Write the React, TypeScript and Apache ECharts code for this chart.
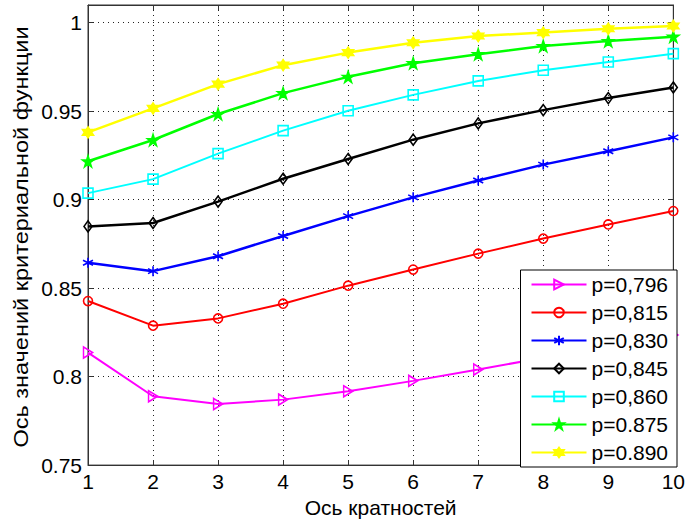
import React, { useEffect, useRef } from "react";
import * as echarts from "echarts";

const xValues = [1, 2, 3, 4, 5, 6, 7, 8, 9, 10];
const seriesNames = ["p=0,796", "p=0,815", "p=0,830", "p=0,845", "p=0,860", "p=0.875", "p=0.890"];
const p796 = [0.8136, 0.7889, 0.7845, 0.787, 0.7917, 0.7976, 0.804, 0.8107, 0.817, 0.8235];
const p815 = [0.8427, 0.8288, 0.8329, 0.8412, 0.8514, 0.8605, 0.8695, 0.878, 0.886, 0.8936];
const p830 = [0.8643, 0.8596, 0.868, 0.8795, 0.8907, 0.9013, 0.9108, 0.9198, 0.9274, 0.9352];
const p845 = [0.8849, 0.8868, 0.8989, 0.9118, 0.923, 0.9339, 0.9431, 0.9506, 0.9574, 0.9634];
const p860 = [0.9037, 0.9116, 0.926, 0.939, 0.9502, 0.9592, 0.9671, 0.9731, 0.9778, 0.9825];
const p875 = [0.9217, 0.9337, 0.9484, 0.9602, 0.9694, 0.9771, 0.9822, 0.9868, 0.9896, 0.9921];
const p890 = [0.938, 0.9516, 0.9653, 0.976, 0.9831, 0.9887, 0.9925, 0.9944, 0.9966, 0.9981];
const seriesValues = [p796, p815, p830, p845, p860, p875, p890];
const colors = ["#FF00FF", "#FF0000", "#0000FF", "#000000", "#00FFFF", "#00FF00", "#FFFF00"];
const xTitle = "Ось кратностей";
const yTitle = "Ось значений критериальной функции";

const triRight = "path://M0,0L10,5L0,10Z";
const asterisk = "path://M5,0L5,10M0.7,2.5L9.3,7.5M0.7,7.5L9.3,2.5";
const pentagram =
  "path://M5,0L6.18,3.62L10,3.62L6.91,5.86L8.09,9.51L5,7.27L1.91,9.51L3.09,5.86L0,3.62L3.82,3.62Z";
const hexagram =
  "path://M5,0L6.44,2.5L9.33,2.5L7.89,5L9.33,7.5L6.44,7.5L5,10L3.56,7.5L0.67,7.5L2.11,5L0.67,2.5L3.56,2.5Z";
const symbols = [triRight, "circle", asterisk, "diamond", "rect", pentagram, hexagram];
const symbolSizes: any[] = [[9, 11], 9, 10, [8, 11], 10, 11, 11];
const lineWidths = [2, 2, 2.5, 2.5, 2, 2.5, 2.5];
const fills = ["transparent", "transparent", "#0000FF", "transparent", "transparent", "#00FF00", "#FFFF00"];

const FONT = "Liberation Sans, Arial, sans-serif";

export default function App() {
  const ref = useRef<HTMLDivElement>(null);
  useEffect(() => {
    document.body.style.margin = "0";
    const chart = echarts.init(ref.current!, null, { renderer: "svg" });
    const series = seriesValues.map((vals, i) => ({
      name: seriesNames[i],
      type: "line",
      xAxisIndex: 0,
      yAxisIndex: 0,
      data: xValues.map((x, j) => [x, vals[j]]),
      symbol: symbols[i],
      symbolSize: symbolSizes[i],
      showSymbol: true,
      lineStyle: { color: colors[i], width: lineWidths[i] },
      itemStyle: { color: fills[i], borderColor: colors[i], borderWidth: 1.6 },
      emphasis: { disabled: true },
      z: 2 + i,
    }));
    const gridSplit = { show: true, lineStyle: { color: "#222", width: 1, type: [1, 4] as any } };
    chart.setOption({
      animation: false,
      backgroundColor: "#ffffff",
      textStyle: { fontFamily: FONT },
      grid: { left: 88, right: 11, top: 5, bottom: 56, show: true, borderColor: "#333", borderWidth: 1 },
      graphic: [
        {
          type: "text",
          x: 20.5,
          y: 237,
          rotation: Math.PI / 2,
          scaleX: 1.12,
          style: {
            text: yTitle,
            fontSize: 21,
            fontFamily: FONT,
            fill: "#000",
            align: "center",
            verticalAlign: "middle",
          },
        },
      ],
      legend: {
        orient: "vertical",
        right: 11,
        bottom: 56,
        itemWidth: 55,
        itemHeight: 12,
        itemGap: 7,
        padding: [4, 9, 4, 10],
        backgroundColor: "#ffffff",
        borderColor: "#000",
        borderWidth: 1,
        borderRadius: 0,
        textStyle: { fontSize: 21, color: "#000", fontFamily: FONT },
        data: seriesNames,
        z: 10,
      },
      xAxis: [
        {
          type: "value",
          min: 1,
          max: 10,
          interval: 1,
          position: "bottom",
          name: xTitle,
          nameLocation: "middle",
          nameGap: 30,
          nameTextStyle: { fontSize: 21, color: "#000", fontFamily: FONT },
          axisLine: { show: true, onZero: false, lineStyle: { color: "#333" } },
          axisTick: { show: true, inside: true, length: 5, lineStyle: { color: "#333" } },
          axisLabel: { fontSize: 21, color: "#000", margin: 6, fontFamily: FONT },
          splitLine: gridSplit,
        },
        {
          type: "value",
          min: 1,
          max: 10,
          interval: 1,
          position: "top",
          axisLine: { show: true, onZero: false, lineStyle: { color: "#333" } },
          axisTick: { show: true, inside: true, length: 5, lineStyle: { color: "#333" } },
          axisLabel: { show: false },
          splitLine: { show: false },
        },
      ],
      yAxis: [
        {
          type: "value",
          min: 0.75,
          max: 1.01,
          interval: 0.05,
          position: "left",
          axisLine: { show: true, onZero: false, lineStyle: { color: "#333" } },
          axisTick: { show: true, inside: true, length: 5, lineStyle: { color: "#333" } },
          axisLabel: { fontSize: 21, color: "#000", margin: 6, showMaxLabel: false, fontFamily: FONT },
          splitLine: gridSplit,
        },
        {
          type: "value",
          min: 0.75,
          max: 1.01,
          interval: 0.05,
          position: "right",
          axisLine: { show: true, onZero: false, lineStyle: { color: "#333" } },
          axisTick: { show: true, inside: true, length: 5, lineStyle: { color: "#333" } },
          axisLabel: { show: false },
          splitLine: { show: false },
        },
      ],
      series,
    });
    return () => chart.dispose();
  }, []);
  return <div ref={ref} style={{ position: "absolute", left: 0, top: 0, width: 688, height: 523 }} />;
}
